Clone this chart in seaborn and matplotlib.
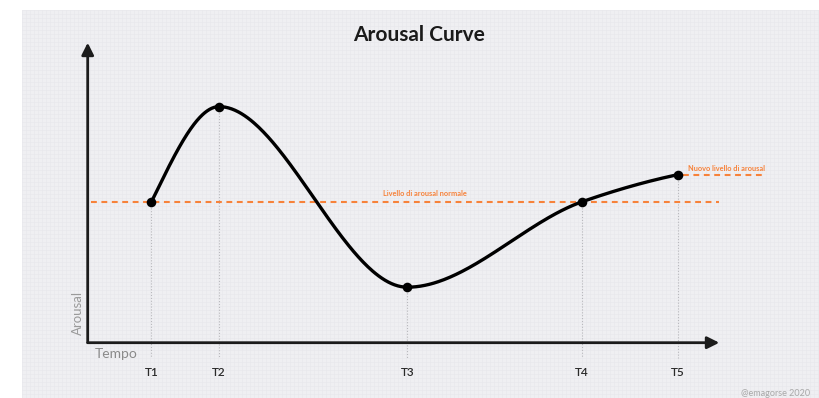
import numpy as np
import pandas as pd
import matplotlib
matplotlib.use("Agg")
import matplotlib.pyplot as plt
import seaborn as sns

# Key moments of the arousal curve
labels = ["T1", "T2", "T3", "T4", "T5"]
tempo = [1.01, 2.08, 5.06, 7.83, 9.34]
arousal = [4.70, 7.87, 1.85, 4.70, 5.60]
livello_normale = 4.70
nuovo_livello = 5.60

title = "Arousal Curve"
label_normale = "Livello di arousal normale"
label_nuovo = "Nuovo livello di arousal"
credit = "@emagorse 2020"

sns.set_theme(style="white")
plt.rcParams["font.family"] = ["Lato", "DejaVu Sans"]

ORANGE = "#f7823a"
INK = "#1c1c1c"
BG = "#efeff2"


def pchip_curve(x, y, n=120):
    """Smooth shape-preserving cubic through the given points."""
    x = np.asarray(x, float)
    y = np.asarray(y, float)
    h = np.diff(x)
    d = np.diff(y) / h
    m = np.zeros_like(y)
    for k in range(1, len(x) - 1):
        if d[k - 1] * d[k] <= 0:
            m[k] = 0.0
        else:
            w1 = 2 * h[k] + h[k - 1]
            w2 = h[k] + 2 * h[k - 1]
            m[k] = (w1 + w2) / (w1 / d[k - 1] + w2 / d[k])

    def end(h0, h1, d0, d1):
        s = ((2 * h0 + h1) * d0 - h0 * d1) / (h0 + h1)
        if np.sign(s) != np.sign(d0):
            return 0.0
        if np.sign(d0) != np.sign(d1) and abs(s) > abs(3 * d0):
            return 3 * d0
        return s

    m[0] = end(h[0], h[1], d[0], d[1])
    m[-1] = end(h[-1], h[-2], d[-1], d[-2])

    xs, ys = [], []
    for k in range(len(x) - 1):
        t = np.linspace(0, 1, n)
        h00 = 2 * t**3 - 3 * t**2 + 1
        h10 = t**3 - 2 * t**2 + t
        h01 = -2 * t**3 + 3 * t**2
        h11 = t**3 - t**2
        xs.append(x[k] + t * h[k])
        ys.append(h00 * y[k] + h10 * h[k] * m[k] + h01 * y[k + 1] + h11 * h[k] * m[k + 1])
    return np.concatenate(xs), np.concatenate(ys)


fig = plt.figure(figsize=(8.19, 3.98), dpi=100, facecolor="white")

# Light gridded backdrop panel
W, H = 819, 398
bg = fig.add_axes([22 / W, 0, 1 - 22 / W, 1 - 10 / H], zorder=0)
bg.set_facecolor(BG)
bg.set_xlim(0, W - 22)
bg.set_ylim(0, H - 10)
for gx in np.arange(0, W, 4):
    bg.axvline(gx, color="#e7e7eb", lw=0.4)
for gy in np.arange(0, H, 4):
    bg.axhline(gy, color="#e7e7eb", lw=0.4)
bg.set_xticks([])
bg.set_yticks([])
for s in bg.spines.values():
    s.set_visible(False)

# Main plotting area (origin at the arrow corner)
x0, y0 = 87.7, 342.7
ax = fig.add_axes([x0 / W, (H - y0) / H, (719.3 - x0) / W, (y0 - 42.7) / H], zorder=1)
ax.patch.set_alpha(0)
ax.set_xlim(0, 10)
ax.set_ylim(0, 10)
ax.set_xticks([])
ax.set_yticks([])
for s in ax.spines.values():
    s.set_visible(False)

# Axes drawn as arrows
arrow = dict(arrowstyle="-|>", lw=2.0, color=INK, mutation_scale=18, shrinkA=0, shrinkB=0)
ax.annotate("", xy=(10, 0), xytext=(0, 0), arrowprops=arrow, annotation_clip=False)
ax.annotate("", xy=(0, 10), xytext=(0, 0), arrowprops=arrow, annotation_clip=False)

# Reference levels
ax.plot([0.05, 10.0], [livello_normale] * 2, color=ORANGE, lw=1.5,
        dashes=(2.8, 2.2), clip_on=False, zorder=2)
ax.plot([9.42, 10.72], [nuovo_livello] * 2, color=ORANGE, lw=1.5,
        dashes=(2.8, 2.2), clip_on=False, zorder=2)
ax.text(5.34, livello_normale + 0.26, label_normale, color=ORANGE, fontsize=5.3,
        fontweight="bold", ha="center", va="center")
ax.text(9.5, nuovo_livello + 0.19, label_nuovo, color=ORANGE, fontsize=5.3,
        fontweight="bold", ha="left", va="center", clip_on=False)

# Dotted drop lines and time labels
for lab, tx, ty in zip(labels, tempo, arousal):
    ax.plot([tx, tx], [ty, -0.52], color="#b8b8bc", lw=0.8,
            linestyle=(0, (1, 1.6)), clip_on=False, zorder=1)
    ax.text(tx, -0.99, lab, ha="center", va="center", fontsize=8.5,
            fontweight="semibold", color="#2a2a2a", clip_on=False)

# Arousal curve
cx, cy = pchip_curve(tempo, arousal)
curve = pd.DataFrame({"tempo": cx, "arousal": cy})
sns.lineplot(data=curve, x="tempo", y="arousal", sort=False, estimator=None,
             color="black", lw=2.4, ax=ax, zorder=3)
pts = pd.DataFrame({"tempo": tempo, "arousal": arousal})
sns.scatterplot(data=pts, x="tempo", y="arousal", color="black", s=48,
                edgecolor="black", linewidth=0, ax=ax, zorder=4, clip_on=False)
ax.set_xlabel("")
ax.set_ylabel("")

# Axis names
ax.text(0.115, -0.36, "Tempo", ha="left", va="center", fontsize=10,
        color="#8a8a8a", clip_on=False)
ax.text(-0.16, 1.0, "Arousal", ha="center", va="center", rotation=90,
        fontsize=9.5, color="#9a9a9a", clip_on=False)

fig.text(419 / W, 1 - 35 / H, title, ha="center", va="center", fontsize=15,
         fontweight="bold", color="#1a1a1a")
fig.text(810 / W, 1 - 393 / H, credit, ha="right", va="center", fontsize=6.5,
         color="#a8a8a8")

fig.savefig("out.png", dpi=100, facecolor="white")
